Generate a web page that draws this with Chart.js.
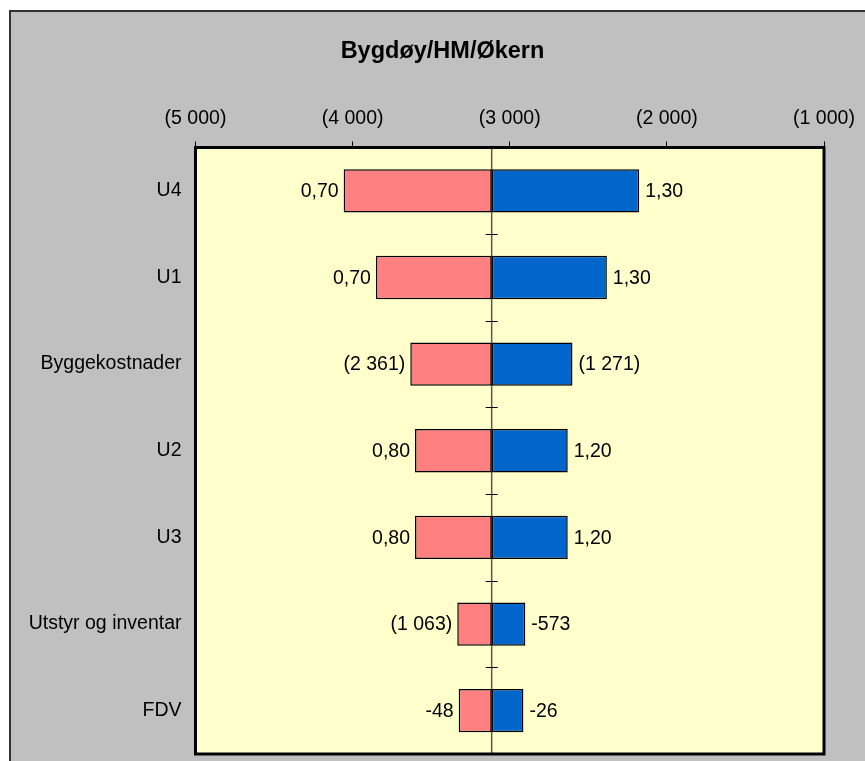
<!DOCTYPE html>
<html>
<head>
<meta charset="utf-8">
<script src="https://cdn.jsdelivr.net/npm/chart.js@4.4.1/dist/chart.umd.min.js"></script>
<style>
  html, body { margin: 0; padding: 0; background: #ffffff; }
  #wrap { width: 865px; height: 761px; position: relative; }
</style>
</head>
<body>
<div id="wrap"><canvas id="c" width="865" height="761"></canvas></div>
<script>
// ---- data ----
const chartTitle = 'Bygdøy/HM/Økern';
const categories = ['U4', 'U1', 'Byggekostnader', 'U2', 'U3', 'Utstyr og inventar', 'FDV'];
const baseValue = -3115;
const lowValues  = [-4057, -3852, -3633, -3603, -3603, -3334, -3325];
const highValues = [-2176, -2382, -2601, -2631, -2631, -2901, -2913];
const lowLabels  = ['0,70', '0,70', '(2 361)', '0,80', '0,80', '(1 063)', '-48'];
const highLabels = ['1,30', '1,30', '(1 271)', '1,20', '1,20', '-573', '-26'];
const xTicks = [-5000, -4000, -3000, -2000, -1000];

const FONT = '"Liberation Sans", Arial, sans-serif';
const LABEL_SIZE = 19.5;

function fmt(v) {
  const a = Math.abs(Math.round(v));
  const s = String(a).replace(/\B(?=(\d{3})+(?!\d))/g, ' ');
  return v < 0 ? '(' + s + ')' : s;
}

const decor = {
  id: 'decor',
  beforeDraw(chart) {
    const ctx = chart.ctx;
    const ca = chart.chartArea;
    ctx.save();
    ctx.fillStyle = '#ffffff';
    ctx.fillRect(0, 0, chart.width, chart.height);
    ctx.fillStyle = '#c0c0c0';
    ctx.fillRect(10, 11, chart.width - 10, chart.height - 11);
    ctx.strokeStyle = '#333333';
    ctx.lineWidth = 2;
    ctx.beginPath();
    ctx.moveTo(10, chart.height + 2);
    ctx.lineTo(10, 11);
    ctx.lineTo(chart.width + 2, 11);
    ctx.stroke();
    // title
    ctx.fillStyle = '#000000';
    ctx.font = 'bold 23.5px ' + FONT;
    ctx.textAlign = 'center';
    ctx.textBaseline = 'alphabetic';
    ctx.fillText(chartTitle, 442.5, 57.5);
    // plot background
    ctx.fillStyle = '#ffffcc';
    ctx.fillRect(ca.left, ca.top, ca.right - ca.left, ca.bottom - ca.top);
    // center line
    const x = chart.scales.x.getPixelForValue(baseValue);
    ctx.strokeStyle = '#5a5a50';
    ctx.lineWidth = 1.5;
    ctx.beginPath();
    ctx.moveTo(x, ca.top);
    ctx.lineTo(x, ca.bottom);
    ctx.stroke();
    // category boundary ticks on center line
    ctx.strokeStyle = '#000000';
    ctx.lineWidth = 1;
    const ys = chart.scales.y;
    for (let i = 0; i < categories.length - 1; i++) {
      const y = Math.round((ys.getPixelForValue(i) + ys.getPixelForValue(i + 1)) / 2) + 0.5;
      ctx.beginPath();
      ctx.moveTo(x - 6, y);
      ctx.lineTo(x + 6, y);
      ctx.stroke();
    }
    ctx.restore();
  },
  afterDatasetsDraw(chart) {
    const ctx = chart.ctx;
    const ca = chart.chartArea;
    ctx.save();
    ctx.font = LABEL_SIZE + 'px ' + FONT;
    ctx.fillStyle = '#000000';
    ctx.textBaseline = 'middle';
    const m0 = chart.getDatasetMeta(0).data;
    const m1 = chart.getDatasetMeta(1).data;
    m0.forEach((el, i) => {
      ctx.textAlign = 'right';
      ctx.fillText(lowLabels[i], el.x - 5, el.y + 1);
    });
    m1.forEach((el, i) => {
      ctx.textAlign = 'left';
      ctx.fillText(highLabels[i], el.x + 6, el.y + 1);
    });
    // plot border
    ctx.strokeStyle = '#000000';
    ctx.lineWidth = 3;
    ctx.strokeRect(ca.left, ca.top, ca.right - ca.left, ca.bottom - ca.top);
    ctx.restore();
  }
};

new Chart(document.getElementById('c'), {
  type: 'bar',
  data: {
    labels: categories,
    datasets: [
      {
        data: lowValues,
        base: baseValue,
        backgroundColor: '#ff8080',
        borderColor: '#000000',
        borderWidth: 1.5,
        borderSkipped: false,
        grouped: false,
        categoryPercentage: 1,
        barPercentage: 0.5
      },
      {
        data: highValues,
        base: baseValue,
        backgroundColor: '#0066cc',
        borderColor: '#000000',
        borderWidth: 1.5,
        borderSkipped: false,
        grouped: false,
        categoryPercentage: 1,
        barPercentage: 0.5
      }
    ]
  },
  options: {
    indexAxis: 'y',
    responsive: false,
    animation: false,
    devicePixelRatio: 1,
    layout: { padding: { left: 10, top: 11, right: 41, bottom: 7 } },
    plugins: {
      legend: { display: false },
      tooltip: { enabled: false },
      title: { display: false }
    },
    scales: {
      x: {
        position: 'top',
        min: -5000,
        max: -1000,
        afterBuildTicks(scale) { scale.ticks = xTicks.map(v => ({ value: v })); },
        afterFit(scale) {
          scale.height = 147.5 - 11;
          scale.paddingLeft = 0; scale.paddingRight = 0;
        },
        ticks: {
          color: '#000000',
          font: { family: FONT, size: LABEL_SIZE },
          padding: 11,
          maxRotation: 0,
          callback: (v) => fmt(v)
        },
        grid: {
          drawOnChartArea: false,
          drawTicks: true,
          tickLength: 6,
          color: '#000000',
          lineWidth: 1
        },
        border: { display: false }
      },
      y: {
        ticks: {
          color: '#000000',
          font: { family: FONT, size: LABEL_SIZE },
          padding: 14
        },
        afterFit(scale) {
          scale.width = 195.5 - 10;
          scale.paddingTop = 0; scale.paddingBottom = 0;
        },
        grid: { display: false, drawTicks: false },
        border: { display: false }
      }
    }
  },
  plugins: [decor]
});
</script>
</body>
</html>
